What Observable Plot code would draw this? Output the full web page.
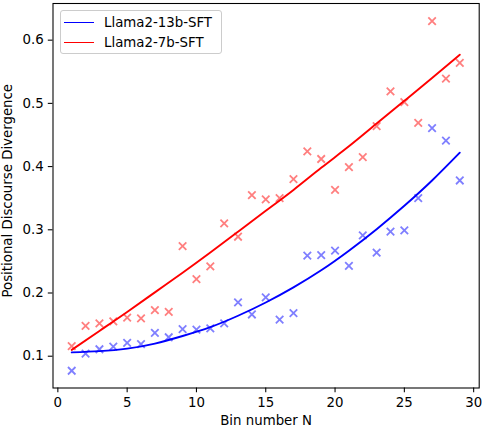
<!DOCTYPE html>
<html>
<head>
<meta charset="utf-8">
<script src="https://cdn.jsdelivr.net/npm/d3@7"></script>
<script src="https://cdn.jsdelivr.net/npm/@observablehq/plot@0.6"></script>
<style>
  body { margin: 0; background: #fff; }
  #wrap { position: relative; width: 482px; height: 428px; font-family: "DejaVu Sans", sans-serif; }
  .legend { position: absolute; left: 60px; top: 10px; width: 162px; height: 44px; box-sizing: border-box;
            border: 1px solid #cccccc; border-radius: 3px; background: rgba(255,255,255,0.8); }
  .item { position: absolute; left: 0; height: 20px; width: 160px; }
  .swatch { position: absolute; left: 3px; width: 30px; height: 0; border-top: 2px solid; top: 9px; }
  .lab { position: absolute; left: 43px; top: 0; font-size: 13.33px; line-height: 20px; color: #000; white-space: nowrap; }
</style>
</head>
<body>
<div id="wrap"></div>
<script>
const bins = [1,2,3,4,5,6,7,8,9,10,11,12,13,14,15,16,17,18,19,20,21,22,23,24,25,26,27,28,29];
const sft13b = [0.077,0.104,0.111,0.115,0.121,0.119,0.137,0.130,0.143,0.142,0.144,0.152,0.185,0.166,0.193,
                0.158,0.168,0.259,0.260,0.267,0.243,0.291,0.264,0.297,0.299,0.350,0.461,0.441,0.378];
const sft7b  = [0.116,0.148,0.152,0.155,0.161,0.160,0.173,0.170,0.274,0.222,0.242,0.310,0.289,0.355,0.348,
                0.350,0.380,0.424,0.412,0.363,0.399,0.415,0.464,0.519,0.502,0.469,0.630,0.539,0.564];
// Fitted trend curves (at odd bins)
const fitBins = [1,3,5,7,9,11,13,15,17,19,21,23,25,27,29];
const fit13b = [0.106,0.108,0.112,0.120,0.132,0.146,0.164,0.185,0.209,0.236,0.267,0.301,0.338,0.378,0.422];
const fit7b  = [0.110,0.140,0.170,0.201,0.232,0.264,0.297,0.330,0.363,0.398,0.432,0.468,0.504,0.540,0.577];
const xTicks = [0,5,10,15,20,25,30];
const yTicks = [0.1,0.2,0.3,0.4,0.5,0.6];
const seriesNames = ["Llama2-13b-SFT","Llama2-7b-SFT"];
const seriesColors = ["#0000ff","#ff0000"];
const xLabel = "Bin number N";
const yLabel = "Positional Discourse Divergence";

const chart = Plot.plot({
  width: 482,
  height: 428,
  marginLeft: 52.5,
  marginRight: 3.3,
  marginTop: 3,
  marginBottom: 40.5,
  style: { fontFamily: "DejaVu Sans, sans-serif", fontSize: "13.33px", color: "#000", background: "#fff", overflow: "visible" },
  x: { domain: [-0.35, 30.4] },
  y: { domain: [0.0497, 0.658] },
  marks: [
    Plot.dot(bins, { x: d => d, y: (d, i) => sft13b[i], symbol: "times", r: 3.5, stroke: seriesColors[0], strokeOpacity: 0.5, strokeWidth: 1.8 }),
    Plot.dot(bins, { x: d => d, y: (d, i) => sft7b[i], symbol: "times", r: 3.5, stroke: seriesColors[1], strokeOpacity: 0.5, strokeWidth: 1.8 }),
    Plot.line(fitBins, { x: d => d, y: (d, i) => fit13b[i], stroke: seriesColors[0], strokeWidth: 1.9, curve: "natural" }),
    Plot.line(fitBins, { x: d => d, y: (d, i) => fit7b[i], stroke: seriesColors[1], strokeWidth: 1.9, curve: "natural" }),
    Plot.axisX({ ticks: xTicks, tickFormat: d3.format("d"), tickSize: 4.7, tickPadding: 5, strokeWidth: 1.07, label: null }),
    Plot.axisY({ ticks: yTicks, tickFormat: d3.format(".1f"), tickSize: 4.7, tickPadding: 4.5, strokeWidth: 1.07, label: null }),
    Plot.frame({ stroke: "#000", strokeWidth: 1.07 }),
    Plot.text([xLabel], { text: d => d, frameAnchor: "bottom", dy: 33, textAnchor: "middle", lineAnchor: "middle", fontSize: 13.33 }),
    Plot.text([yLabel], { text: d => d, frameAnchor: "left", dx: -45, dy: -5, rotate: -90, textAnchor: "middle", lineAnchor: "middle", fontSize: 13.33 })
  ]
});

const wrap = document.getElementById("wrap");
wrap.appendChild(chart);

const legend = document.createElement("div");
legend.className = "legend";
seriesNames.forEach((name, i) => {
  const item = document.createElement("div");
  item.className = "item";
  item.style.top = (2 + i * 20) + "px";
  const sw = document.createElement("div");
  sw.className = "swatch";
  sw.style.borderTopColor = seriesColors[i];
  sw.style.borderTopWidth = "1.5px";
  const lab = document.createElement("div");
  lab.className = "lab";
  lab.textContent = name;
  item.appendChild(sw);
  item.appendChild(lab);
  legend.appendChild(item);
});
wrap.appendChild(legend);
</script>
</body>
</html>
